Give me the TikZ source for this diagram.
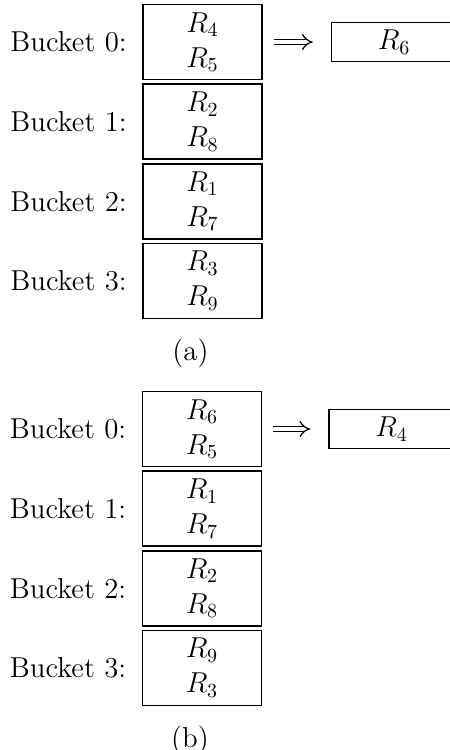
\documentclass[tikz,border=0pt]{standalone}
\usetikzlibrary{positioning,arrows.meta}

\begin{document}
\begin{tikzpicture}[
    x=0.5pt, y=-0.5pt,
    font=\fontsize{14.4}{17.5}\selectfont,
    every node/.style={align=center, inner sep=0pt},
    bucket/.style={draw, line width=0.8pt, minimum width=59.5pt, minimum height=37.5pt},
    ovf/.style={draw, line width=0.8pt, minimum width=62.5pt, minimum height=19.5pt},
    lab/.style={text=black},
    implies/.style={double, double distance=2.2pt, semithick, -{Implies}, shorten <=5.5pt, shorten >=9pt}]
  \useasboundingbox (0,0) rectangle (450,750);
  % (a) before the split
  \node[bucket] (a0) at (202.5,42) {$R_4$\\$R_5$};
  \node[bucket, below=1.5pt of a0] (a1) {$R_2$\\$R_8$};
  \node[bucket, below=1.5pt of a1] (a2) {$R_1$\\$R_7$};
  \node[bucket, below=1.5pt of a2] (a3) {$R_3$\\$R_9$};
  \node[lab, left=7.5pt of a0] (la0) {Bucket 0:};
  \node[lab, left=7.5pt of a1] (la1) {Bucket 1:};
  \node[lab, left=7.5pt of a2] (la2) {Bucket 2:};
  \node[lab, left=7.5pt of a3] (la3) {Bucket 3:};
  \node[ovf, right=34pt of a0] (ovfa) {$R_6$};
  \draw[implies] (a0) -- (ovfa);
  \node[below=9.5pt of a3, xshift=-6pt] (capa) {(a)};
  % (b) after
  \node[bucket] (b0) at (202,429) {$R_6$\\$R_5$};
  \node[bucket, below=1.5pt of b0] (b1) {$R_1$\\$R_7$};
  \node[bucket, below=1.5pt of b1] (b2) {$R_2$\\$R_8$};
  \node[bucket, below=1.5pt of b2] (b3) {$R_9$\\$R_3$};
  \node[lab, left=7.5pt of b0] (lb0) {Bucket 0:};
  \node[lab, left=7.5pt of b1] (lb1) {Bucket 1:};
  \node[lab, left=7.5pt of b2] (lb2) {Bucket 2:};
  \node[lab, left=7.5pt of b3] (lb3) {Bucket 3:};
  \node[ovf, right=33pt of b0] (ovfb) {$R_4$};
  \draw[implies] (b0) -- (ovfb);
  \node[below=9.5pt of b3, xshift=-6pt] (capb) {(b)};
\end{tikzpicture}
\end{document}
